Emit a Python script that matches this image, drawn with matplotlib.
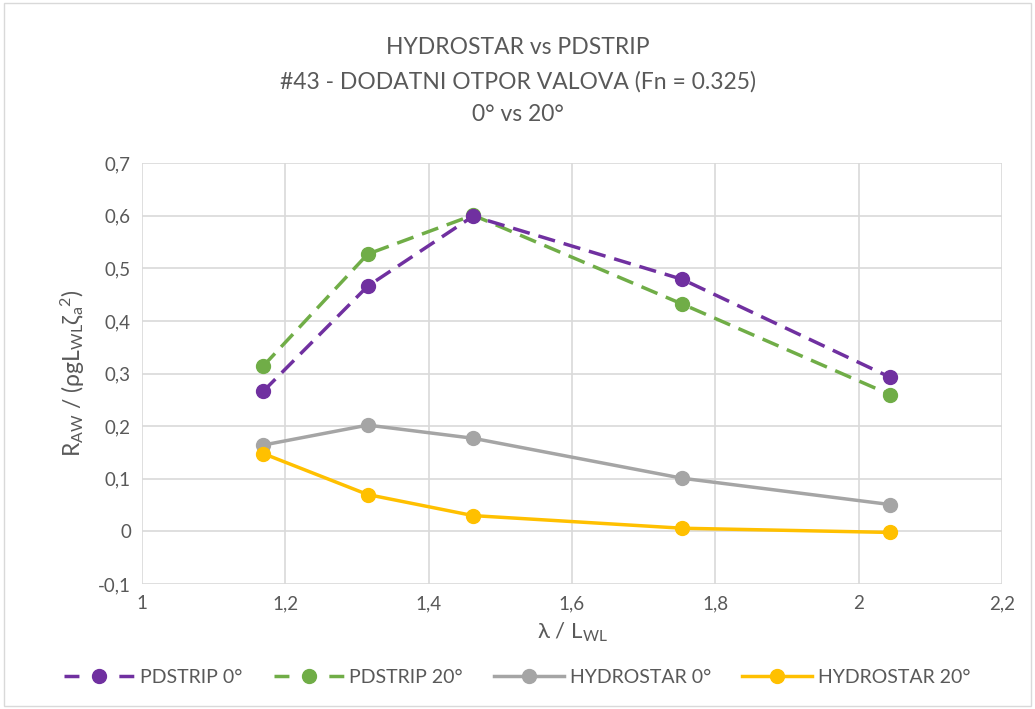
import matplotlib
matplotlib.use('Agg')
import matplotlib.pyplot as plt
from matplotlib.patches import Rectangle

plt.rcParams['font.family'] = ['Lato', 'DejaVu Sans']
plt.rcParams['mathtext.default'] = 'regular'

# data
wave_ratio = [1.169, 1.315, 1.462, 1.754, 2.044]
pdstrip_0 = [0.266, 0.466, 0.599, 0.479, 0.293]
pdstrip_20 = [0.314, 0.527, 0.601, 0.432, 0.260]
hydrostar_0 = [0.164, 0.202, 0.177, 0.101, 0.051]
hydrostar_20 = [0.148, 0.070, 0.030, 0.006, -0.002]

x_ticks = [1, 1.2, 1.4, 1.6, 1.8, 2, 2.2]
y_ticks = [-0.1, 0, 0.1, 0.2, 0.3, 0.4, 0.5, 0.6, 0.7]

txt = '#595959'

fig = plt.figure(figsize=(10.35, 7.09), dpi=100)
fig.patches.append(Rectangle((0.004, 0.004), 0.992, 0.992, transform=fig.transFigure,
                             fill=False, edgecolor='#D9D9D9', linewidth=1))
ax = fig.add_axes([0.1372, 0.1763, 0.8308, 0.5937])

dash = (0, (5.0, 2.6))
ax.plot(wave_ratio, pdstrip_0, color='#7030A0', lw=2.5, ls=dash, marker='o', ms=10,
        label='PDSTRIP 0°', zorder=4)
ax.plot(wave_ratio, pdstrip_20, color='#70AD47', lw=2.5, ls=dash, marker='o', ms=10,
        label='PDSTRIP 20°', zorder=3)
ax.plot(wave_ratio, hydrostar_0, color='#A5A5A5', lw=2.5, marker='o', ms=10,
        label='HYDROSTAR 0°', zorder=3)
ax.plot(wave_ratio, hydrostar_20, color='#FFC000', lw=2.5, marker='o', ms=10,
        label='HYDROSTAR 20°', zorder=3)

ax.set_xlim(1, 2.2)
ax.set_ylim(-0.1, 0.7)
ax.set_xticks(x_ticks)
ax.set_yticks(y_ticks)
ax.set_xticklabels([('%g' % v).replace('.', ',') for v in x_ticks])
ax.set_yticklabels([('%g' % v).replace('.', ',') for v in y_ticks])
ax.grid(True, color='#D9D9D9', lw=1.2)
ax.set_axisbelow(True)
for s in ax.spines.values():
    s.set_visible(False)
ax.tick_params(length=0, labelsize=13.5, colors=txt, pad=8)

ax.set_xlabel(r'λ / L$_{WL}$', fontsize=16, color=txt, labelpad=6)
ax.set_ylabel(r'R$_{AW}$ / (ρgL$_{WL}$ζ$_{a}$$^{2}$)', fontsize=16.5, color=txt, labelpad=8)

fig.text(0.5, 0.933, 'HYDROSTAR vs PDSTRIP', ha='center', va='center', fontsize=16.5, color=txt)
fig.text(0.5, 0.885, '#43 - DODATNI OTPOR VALOVA (Fn = 0.325)', ha='center', va='center',
         fontsize=16.5, color=txt)
fig.text(0.5, 0.838, '0° vs 20°', ha='center', va='center', fontsize=16.5, color=txt)

leg = fig.legend(loc='center', bbox_to_anchor=(0.5, 0.045), ncol=4, frameon=False,
                 fontsize=14, handlelength=3.6, columnspacing=1.6, handletextpad=0.3)
for t in leg.get_texts():
    t.set_color(txt)
for h in leg.legend_handles:
    if h.get_linestyle() == '--':
        h.set_dashes((4.3, 11.5))

fig.savefig('out.png', dpi=100)
